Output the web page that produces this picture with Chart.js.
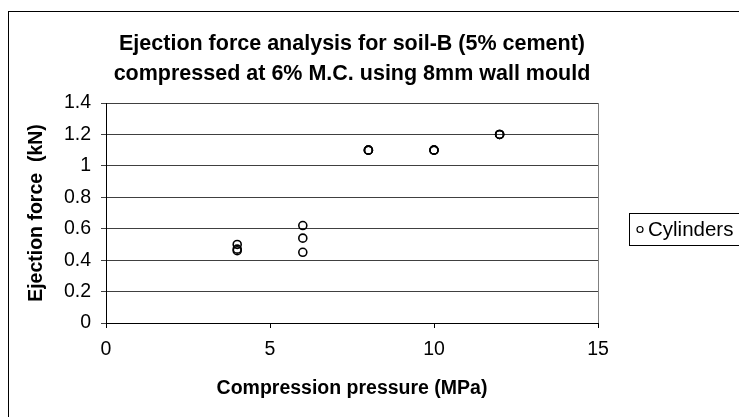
<!DOCTYPE html>
<html>
<head>
<meta charset="utf-8">
<script src="https://cdn.jsdelivr.net/npm/chart.js@4.4.1/dist/chart.umd.min.js"></script>
<style>
  html, body { margin: 0; padding: 0; background: #ffffff; }
  #wrap { width: 739px; height: 417px; position: relative; }
</style>
</head>
<body>
<div id="wrap"><canvas id="c" width="739" height="417"></canvas></div>
<script>
// ---- data ----
const titleLines = ['Ejection force analysis for soil-B (5% cement)', 'compressed at 6% M.C. using 8mm wall mould'];
const xAxisTitle = 'Compression pressure (MPa)';
const yAxisTitle = 'Ejection force  (kN)';
const seriesName = 'Cylinders';
const pressure = [4, 4, 4, 6, 6, 6, 8, 8, 8, 10, 10, 10, 12, 12, 12];
const force    = [0.50, 0.47, 0.46, 0.62, 0.54, 0.45, 1.10, 1.10, 1.10, 1.10, 1.10, 1.10, 1.20, 1.20, 1.20];
const xTickLabels = ['0', '5', '10', '15'];
const yTickLabels = ['0', '0.2', '0.4', '0.6', '0.8', '1', '1.2', '1.4'];

const points = pressure.map((p, i) => ({ x: p, y: force[i] }));
const FONT = '"Liberation Sans", Arial, sans-serif';

const decor = {
  id: 'decor',
  beforeDraw(chart) {
    const ctx = chart.ctx;
    ctx.save();
    ctx.fillStyle = '#fff';
    ctx.fillRect(0, 0, chart.width, chart.height);
    ctx.strokeStyle = '#000';
    ctx.lineWidth = 1;
    ctx.strokeRect(8.5, 11.5, 800, 500);
    ctx.restore();
  },
  afterDraw(chart) {
    const ctx = chart.ctx;
    const a = chart.chartArea;
    ctx.save();
    // right edge of plot area
    ctx.strokeStyle = '#808080';
    ctx.lineWidth = 1;
    ctx.beginPath();
    ctx.moveTo(Math.round(a.right) + 0.5, a.top);
    ctx.lineTo(Math.round(a.right) + 0.5, a.bottom);
    ctx.stroke();
    // title
    ctx.fillStyle = '#000';
    ctx.textAlign = 'center';
    ctx.textBaseline = 'alphabetic';
    ctx.font = 'bold 21.5px ' + FONT;
    const cx = (a.left + a.right) / 2;
    ctx.fillText(titleLines[0], cx, 50);
    ctx.fillText(titleLines[1], cx, 80);
    // x axis title
    ctx.font = 'bold 19.5px ' + FONT;
    ctx.fillText(xAxisTitle, cx, 394);
    // y axis title
    ctx.save();
    ctx.translate(37, (a.top + a.bottom) / 2);
    ctx.rotate(-Math.PI / 2);
    ctx.textBaseline = 'middle';
    ctx.fillText(yAxisTitle, 0, 0);
    ctx.restore();
    // legend
    ctx.strokeStyle = '#000';
    ctx.lineWidth = 1;
    ctx.strokeRect(629.5, 213.5, 130, 32);
    ctx.beginPath();
    ctx.arc(640, 229.5, 3, 0, Math.PI * 2);
    ctx.lineWidth = 1.2;
    ctx.stroke();
    ctx.font = '20.5px ' + FONT;
    ctx.textAlign = 'left';
    ctx.textBaseline = 'middle';
    ctx.fillText(seriesName, 648, 230);
    ctx.restore();
  }
};

new Chart(document.getElementById('c'), {
  type: 'scatter',
  data: {
    datasets: [{
      label: seriesName,
      data: points,
      showLine: false,
      pointStyle: 'circle',
      pointRadius: 4,
      pointHoverRadius: 4,
      pointBorderWidth: 1.6,
      pointBorderColor: '#000',
      pointBackgroundColor: 'rgba(255,255,255,0)'
    }]
  },
  options: {
    responsive: false,
    devicePixelRatio: 1,
    animation: false,
    events: [],
    layout: { padding: { left: 0, top: 103, right: 141, bottom: 0 } },
    plugins: { legend: { display: false }, title: { display: false }, tooltip: { enabled: false } },
    scales: {
      x: {
        type: 'linear', min: 0, max: 15,
        afterFit(s) { s.height = 94; },
        afterBuildTicks(s) { s.ticks = xTickLabels.map(v => ({ value: Number(v) })); },
        ticks: {
          font: { family: FONT, size: 19.5 }, color: '#000', padding: 10,
          maxRotation: 0, autoSkip: false,
          callback: (v, i) => xTickLabels[i]
        },
        grid: { drawOnChartArea: false, drawTicks: true, tickLength: 5, color: '#000' },
        border: { color: '#000', width: 1 }
      },
      y: {
        type: 'linear', min: 0, max: 1.4,
        afterFit(s) { s.width = 106; },
        afterBuildTicks(s) { s.ticks = yTickLabels.map(v => ({ value: Number(v) })); },
        ticks: {
          font: { family: FONT, size: 19.5 }, color: '#000', padding: 10,
          autoSkip: false,
          callback: (v, i) => yTickLabels[i]
        },
        grid: { drawOnChartArea: true, drawTicks: true, tickLength: 5, color: '#404040' },
        border: { color: '#000', width: 1 }
      }
    }
  },
  plugins: [decor]
});
</script>
</body>
</html>
